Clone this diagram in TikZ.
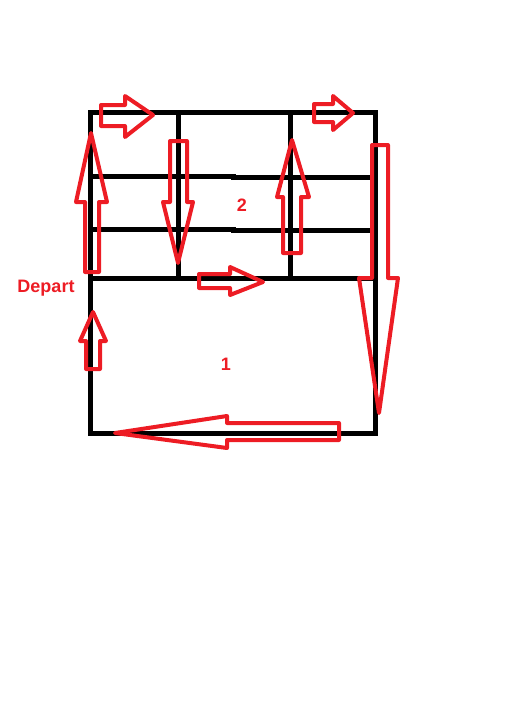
\documentclass[tikz,border=0pt]{standalone}
\usepackage{fontspec}
\newfontfamily\labelfont{Liberation Sans}
\definecolor{paintred}{RGB}{237,28,36}
\usepackage{tikz}
\usetikzlibrary{positioning}

\begin{document}
\begin{tikzpicture}[
    x=1pt, y=-1pt,
    frame/.style={draw=black, line width=5pt, line cap=rect},
    blockarrow/.style={draw=paintred, line width=4pt, line join=round},
    zonelabel/.style={font=\labelfont\bfseries\fontsize{18}{21}\selectfont,
                      text=paintred, inner sep=0pt}
  ]
  \useasboundingbox (0,0) rectangle (507,726);

  %% Field outline
  \coordinate (nw) at (90,112);
  \coordinate (se) at (375,433);
  \draw[frame] (nw) rectangle (se);

  %% Rows of zone 2
  \draw[frame] (90,176) -- (233,176);
  \draw[frame] (233,177) -- (372,177);
  \draw[frame] (90,229) -- (233,229);
  \draw[frame] (233,230) -- (375,230);
  \draw[frame] (90,278) -- (375,278);

  %% Columns of zone 2
  \draw[frame] (178,112) -- (178,278);
  \draw[frame] (290,112) -- (290,278);

  %% Path arrows, zone 1
  \draw[blockarrow] (86,369) -- (86,341) -- (80,341) -- (93,312)
    -- (106,341) -- (100,341) -- (100,369) -- cycle;

  %% Path arrows, zone 2
  \draw[blockarrow] (85,272) -- (85,202) -- (76,202) -- (91,133)
    -- (107,202) -- (99,202) -- (99,272) -- cycle;
  \draw[blockarrow] (101,105) -- (125,105) -- (125,96) -- (153,115)
    -- (125,137) -- (125,126) -- (101,126) -- cycle;
  \draw[blockarrow] (170,141) -- (187,141) -- (187,202) -- (193,202)
    -- (178,263) -- (163,202) -- (170,202) -- cycle;
  \draw[blockarrow] (199,274) -- (230,274) -- (230,267) -- (263,282)
    -- (230,295) -- (230,288) -- (199,288) -- cycle;
  \draw[blockarrow] (283,253) -- (283,197) -- (277,197) -- (292,140)
    -- (309,197) -- (301,197) -- (301,253) -- cycle;
  \draw[blockarrow] (314,104) -- (333,104) -- (333,96) -- (353,113)
    -- (333,130) -- (333,122) -- (314,122) -- cycle;

  %% Return arrows
  \draw[blockarrow] (372,145) -- (388,145) -- (388,278) -- (398,278)
    -- (379,413) -- (359,278) -- (372,278) -- cycle;
  \draw[blockarrow] (339,423) -- (227,423) -- (227,416) -- (115,433)
    -- (227,448) -- (227,440) -- (339,440) -- cycle;

  %% Labels
  \node[zonelabel] (depart) at (46,288) {Depart};
  \node[zonelabel] (zone2) at (242,205) {2};
  \node[zonelabel] (zone1) at (226,364) {1};

\end{tikzpicture}
\end{document}
